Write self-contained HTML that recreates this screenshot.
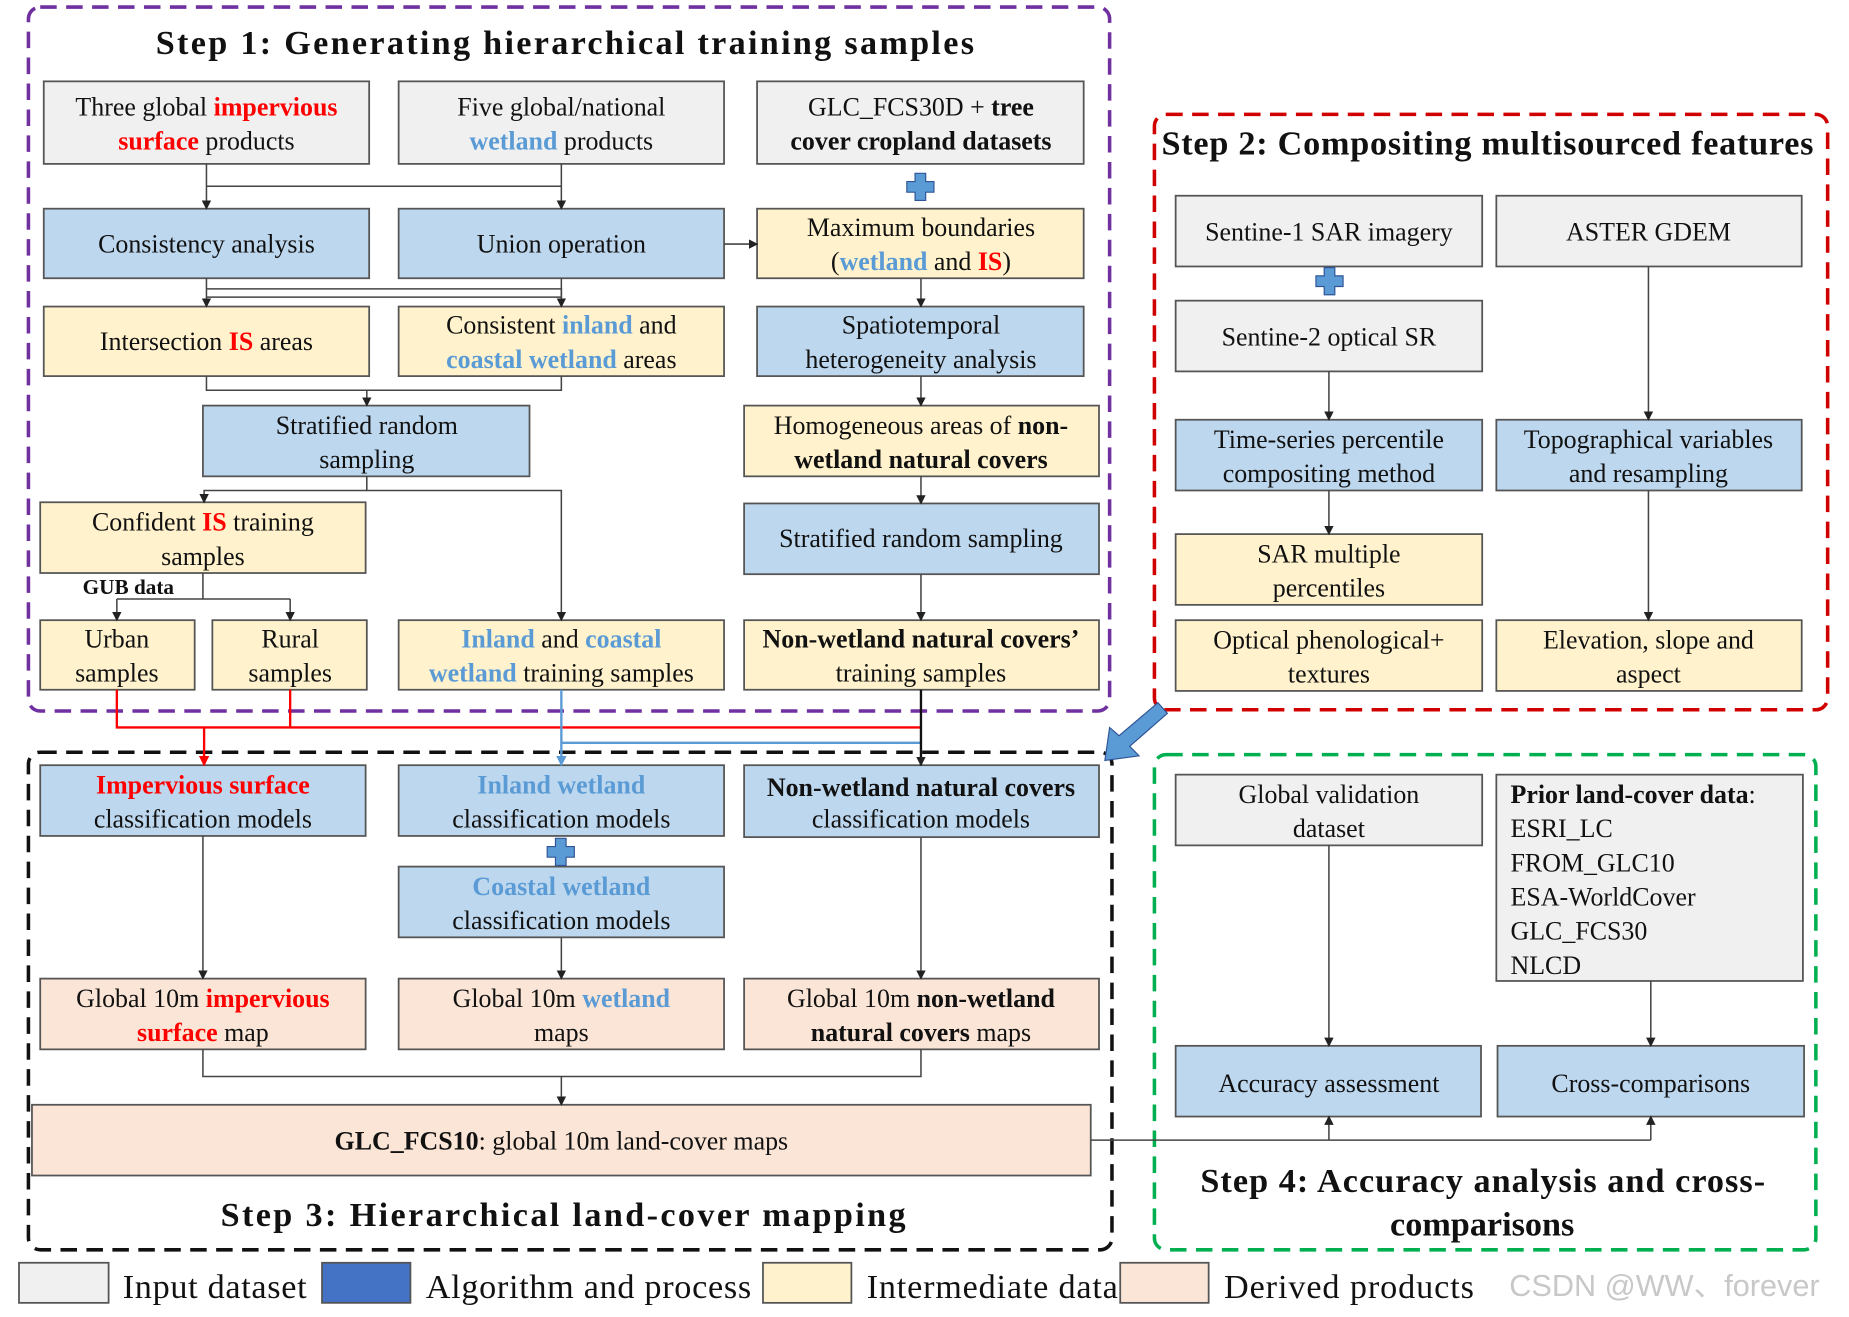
<!DOCTYPE html>
<html><head><meta charset="utf-8"><style>
html,body{margin:0;padding:0;background:#fff;}
svg{display:block}
text{font-family:"Liberation Serif",serif;font-size:22px;fill:#111;}
.b{font-weight:bold}
.r{fill:#ff0000;font-weight:bold}
.u{fill:#5b9bd5;font-weight:bold}
.t{font-size:29px;font-weight:bold}
.l{font-size:29px}
.ln{stroke:#444;stroke-width:1.3;fill:none}
</style></head><body>
<svg width="1849" height="1317" viewBox="0 0 1568 1117" xmlns="http://www.w3.org/2000/svg">
<defs>
<marker id="a" markerWidth="8" markerHeight="8" refX="7" refY="4" orient="auto" markerUnits="userSpaceOnUse"><path d="M0,0 L8,4 L0,8 z" fill="#222"/></marker>
<marker id="ar" markerWidth="9" markerHeight="9" refX="8" refY="4.5" orient="auto" markerUnits="userSpaceOnUse"><path d="M0,0 L9,4.5 L0,9 z" fill="#ff0000"/></marker>
<marker id="ab" markerWidth="9" markerHeight="9" refX="8" refY="4.5" orient="auto" markerUnits="userSpaceOnUse"><path d="M0,0 L9,4.5 L0,9 z" fill="#5b9bd5"/></marker>
</defs>
<g stroke="#555" stroke-width="1.5">
<rect x="37" y="69" width="276" height="70" fill="#f0f0f0"/>
<rect x="338" y="69" width="276" height="70" fill="#f0f0f0"/>
<rect x="642" y="69" width="277" height="70" fill="#f0f0f0"/>
<rect x="37" y="177" width="276" height="59" fill="#bdd7ee"/>
<rect x="338" y="177" width="276" height="59" fill="#bdd7ee"/>
<rect x="642" y="177" width="277" height="59" fill="#fff2cc"/>
<rect x="37" y="260" width="276" height="59" fill="#fff2cc"/>
<rect x="338" y="260" width="276" height="59" fill="#fff2cc"/>
<rect x="642" y="260" width="277" height="59" fill="#bdd7ee"/>
<rect x="172" y="344" width="277" height="60" fill="#bdd7ee"/>
<rect x="631" y="344" width="301" height="60" fill="#fff2cc"/>
<rect x="34" y="426" width="276" height="60" fill="#fff2cc"/>
<rect x="631" y="427" width="301" height="60" fill="#bdd7ee"/>
<rect x="34" y="526" width="131" height="59" fill="#fff2cc"/>
<rect x="180" y="526" width="131" height="59" fill="#fff2cc"/>
<rect x="338" y="526" width="276" height="59" fill="#fff2cc"/>
<rect x="631" y="526" width="301" height="59" fill="#fff2cc"/>
<rect x="34" y="649" width="276" height="60" fill="#bdd7ee"/>
<rect x="338" y="649" width="276" height="60" fill="#bdd7ee"/>
<rect x="631" y="649" width="301" height="61" fill="#bdd7ee"/>
<rect x="338" y="735" width="276" height="60" fill="#bdd7ee"/>
<rect x="34" y="830" width="276" height="60" fill="#fbe5d6"/>
<rect x="338" y="830" width="276" height="60" fill="#fbe5d6"/>
<rect x="631" y="830" width="301" height="60" fill="#fbe5d6"/>
<rect x="27" y="937" width="898" height="60" fill="#fbe5d6"/>
<rect x="997" y="166" width="260" height="60" fill="#f0f0f0"/>
<rect x="1269" y="166" width="259" height="60" fill="#f0f0f0"/>
<rect x="997" y="255" width="260" height="60" fill="#f0f0f0"/>
<rect x="997" y="356" width="260" height="60" fill="#bdd7ee"/>
<rect x="1269" y="356" width="259" height="60" fill="#bdd7ee"/>
<rect x="997" y="453" width="260" height="60" fill="#fff2cc"/>
<rect x="997" y="526" width="260" height="60" fill="#fff2cc"/>
<rect x="1269" y="526" width="259" height="60" fill="#fff2cc"/>
<rect x="997" y="657" width="260" height="60" fill="#f0f0f0"/>
<rect x="1269" y="657" width="260" height="175" fill="#f0f0f0"/>
<rect x="997" y="887" width="259" height="60" fill="#bdd7ee"/>
<rect x="1270" y="887" width="260" height="60" fill="#bdd7ee"/>
<rect x="16" y="1071" width="76" height="34" fill="#f0f0f0"/>
<rect x="273" y="1071" width="75" height="34" fill="#4472c4"/>
<rect x="647" y="1071" width="75" height="34" fill="#fff2cc"/>
<rect x="950" y="1071" width="75" height="34" fill="#fbe5d6"/>
</g>
<rect x="24" y="6" width="917" height="597" rx="10" fill="none" stroke="#7030a0" stroke-width="3" stroke-dasharray="14,8"/>
<rect x="24" y="638" width="919" height="422" rx="10" fill="none" stroke="#111" stroke-width="3" stroke-dasharray="14,8"/>
<rect x="979" y="97" width="571" height="505" rx="10" fill="none" stroke="#d00000" stroke-width="3" stroke-dasharray="14,8"/>
<rect x="979" y="640" width="561" height="420" rx="10" fill="none" stroke="#00b050" stroke-width="3" stroke-dasharray="14,8"/>
<g fill="#5b9bd5" stroke="#2f5597" stroke-width="1">
<path d="M776,147h9v7h7v9h-7v7h-9v-7h-7v-9h7z"/>
<path d="M1123,227h9v7h7v9h-7v7h-9v-7h-7v-9h7z"/>
<path d="M471,711h9v7h7v9h-7v7h-9v-7h-7v-9h7z"/>
</g>
<path d="M982,596 L990,605 L958,633 L966,641 L937,645 L941,617 L949,624 Z" fill="#5b9bd5" stroke="#2f5597" stroke-width="1"/>
<g class="ln">
<path d="M175,139V177" marker-end="url(#a)"/>
<path d="M476,139V177" marker-end="url(#a)"/>
<path d="M175,158H476"/>
<path d="M614,207H642" marker-end="url(#a)"/>
<path d="M175,236V260" marker-end="url(#a)"/>
<path d="M175,245H476V260" marker-end="url(#a)"/>
<path d="M476,236V252H175"/>
<path d="M781,236V260" marker-end="url(#a)"/>
<path d="M781,319V344" marker-end="url(#a)"/>
<path d="M781,404V427" marker-end="url(#a)"/>
<path d="M781,487V526" marker-end="url(#a)"/>
<path d="M175,319V331H476V319"/>
<path d="M311,331V344" marker-end="url(#a)"/>
<path d="M311,404V416H476V526" marker-end="url(#a)"/>
<path d="M311,416H173V426" marker-end="url(#a)"/>
<path d="M172,486V508"/>
<path d="M99,508H246"/>
<path d="M99,508V526" marker-end="url(#a)"/>
<path d="M246,508V526" marker-end="url(#a)"/>
<path d="M172,709V830" marker-end="url(#a)"/>
<path d="M476,795V830" marker-end="url(#a)"/>
<path d="M781,710V830" marker-end="url(#a)"/>
<path d="M172,890V913H781V890"/>
<path d="M476,913V937" marker-end="url(#a)"/>
<path d="M925,967H1400"/>
<path d="M1127,967V947" marker-end="url(#a)"/>
<path d="M1400,967V947" marker-end="url(#a)"/>
<path d="M1127,315V356" marker-end="url(#a)"/>
<path d="M1127,416V453" marker-end="url(#a)"/>
<path d="M1398,226V356" marker-end="url(#a)"/>
<path d="M1398,416V526" marker-end="url(#a)"/>
<path d="M1127,717V887" marker-end="url(#a)"/>
<path d="M1400,832V887" marker-end="url(#a)"/>
</g>
<path d="M99,585V617H781 M246,585V617" stroke="#ff0000" stroke-width="2" fill="none"/>
<path d="M173,617V649" stroke="#ff0000" stroke-width="2" fill="none" marker-end="url(#ar)"/>
<path d="M781,630H476 M476,585V649" stroke="#5b9bd5" stroke-width="2" fill="none" marker-end="url(#ab)"/>
<path d="M781,585V649" stroke="#111" stroke-width="2" fill="none" marker-end="url(#a)"/>
<text x="132" y="46" class="t" textLength="694" lengthAdjust="spacing">Step 1: Generating hierarchical training samples</text>
<text x="985" y="131" class="t" textLength="553" lengthAdjust="spacing">Step 2: Compositing multisourced features</text>
<text x="187" y="1040" class="t" textLength="581" lengthAdjust="spacing">Step 3: Hierarchical land-cover mapping</text>
<text x="1018" y="1011" class="t" textLength="479" lengthAdjust="spacing">Step  4: Accuracy analysis and cross-</text>
<text x="1257" y="1048" text-anchor="middle" class="t">comparisons</text>
<g text-anchor="middle">
<text x="175" y="98">Three global <tspan class="r">impervious</tspan></text>
<text x="175" y="127"><tspan class="r">surface</tspan> products</text>
<text x="476" y="98">Five global/national</text>
<text x="476" y="127"><tspan class="u">wetland</tspan> products</text>
<text x="781" y="98">GLC_FCS30D + <tspan class="b">tree</tspan></text>
<text x="781" y="127" class="b">cover cropland datasets</text>
<text x="175" y="214">Consistency  analysis</text>
<text x="476" y="214">Union operation</text>
<text x="781" y="200">Maximum boundaries</text>
<text x="781" y="229">(<tspan class="u">wetland</tspan> and <tspan class="r">IS</tspan>)</text>
<text x="175" y="297">Intersection <tspan class="r">IS</tspan> areas</text>
<text x="476" y="283">Consistent <tspan class="u">inland</tspan> and</text>
<text x="476" y="312"><tspan class="u">coastal wetland</tspan> areas</text>
<text x="781" y="283">Spatiotemporal</text>
<text x="781" y="312">heterogeneity analysis</text>
<text x="311" y="368">Stratified random</text>
<text x="311" y="397">sampling</text>
<text x="781" y="368">Homogeneous areas of <tspan class="b">non-</tspan></text>
<text x="781" y="397" class="b">wetland natural covers</text>
<text x="172" y="450">Confident <tspan class="r">IS</tspan> training</text>
<text x="172" y="479">samples</text>
<text x="781" y="464">Stratified random sampling</text>
<text x="99" y="549">Urban</text>
<text x="99" y="578">samples</text>
<text x="246" y="549">Rural</text>
<text x="246" y="578">samples</text>
<text x="476" y="549"><tspan class="u">Inland</tspan> and <tspan class="u">coastal</tspan></text>
<text x="476" y="578"><tspan class="u">wetland</tspan> training samples</text>
<text x="781" y="549" class="b">Non-wetland natural covers’</text>
<text x="781" y="578">training samples</text>
<text x="172" y="673" class="r">Impervious surface</text>
<text x="172" y="702">classification models</text>
<text x="476" y="673" class="u">Inland wetland</text>
<text x="476" y="702">classification models</text>
<text x="781" y="675" class="b">Non-wetland natural covers</text>
<text x="781" y="702">classification models</text>
<text x="476" y="759" class="u">Coastal wetland</text>
<text x="476" y="788">classification models</text>
<text x="172" y="854">Global 10m <tspan class="r">impervious</tspan></text>
<text x="172" y="883"><tspan class="r">surface</tspan> map</text>
<text x="476" y="854">Global 10m <tspan class="u">wetland</tspan></text>
<text x="476" y="883">maps</text>
<text x="781" y="854">Global 10m <tspan class="b">non-wetland</tspan></text>
<text x="781" y="883"><tspan class="b">natural covers</tspan> maps</text>
<text x="476" y="975"><tspan class="b">GLC_FCS10</tspan>: global 10m land-cover maps</text>
<text x="1127" y="204">Sentine-1  SAR imagery</text>
<text x="1398" y="204">ASTER GDEM</text>
<text x="1127" y="293">Sentine-2  optical SR</text>
<text x="1127" y="380">Time-series percentile</text>
<text x="1127" y="409">compositing method</text>
<text x="1398" y="380">Topographical  variables</text>
<text x="1398" y="409">and resampling</text>
<text x="1127" y="477">SAR multiple</text>
<text x="1127" y="506">percentiles</text>
<text x="1127" y="550">Optical phenological+</text>
<text x="1127" y="579">textures</text>
<text x="1398" y="550">Elevation, slope and</text>
<text x="1398" y="579">aspect</text>
<text x="1127" y="681">Global validation</text>
<text x="1127" y="710">dataset</text>
<text x="1127" y="926">Accuracy assessment</text>
<text x="1400" y="926">Cross-comparisons</text>
</g>
<g>
<text x="1281" y="681"><tspan class="b">Prior land-cover data</tspan>:</text>
<text x="1281" y="710">ESRI_LC</text>
<text x="1281" y="739">FROM_GLC10</text>
<text x="1281" y="768">ESA-WorldCover</text>
<text x="1281" y="797">GLC_FCS30</text>
<text x="1281" y="826">NLCD</text>
<text x="70" y="504" class="b" style="font-size:18px">GUB data</text>
<text x="104" y="1101" class="l" textLength="156" lengthAdjust="spacing">Input dataset</text>
<text x="361" y="1101" class="l" textLength="276" lengthAdjust="spacing">Algorithm and process</text>
<text x="735" y="1101" class="l" textLength="213" lengthAdjust="spacing">Intermediate data</text>
<text x="1038" y="1101" class="l" textLength="212" lengthAdjust="spacing">Derived products</text>
<text x="1280" y="1099" style="font-family:'Liberation Sans','Noto Sans CJK SC',sans-serif;font-size:26px;fill:#c8c8c8">CSDN @WW、forever</text>
</g>
</svg>
</body></html>
